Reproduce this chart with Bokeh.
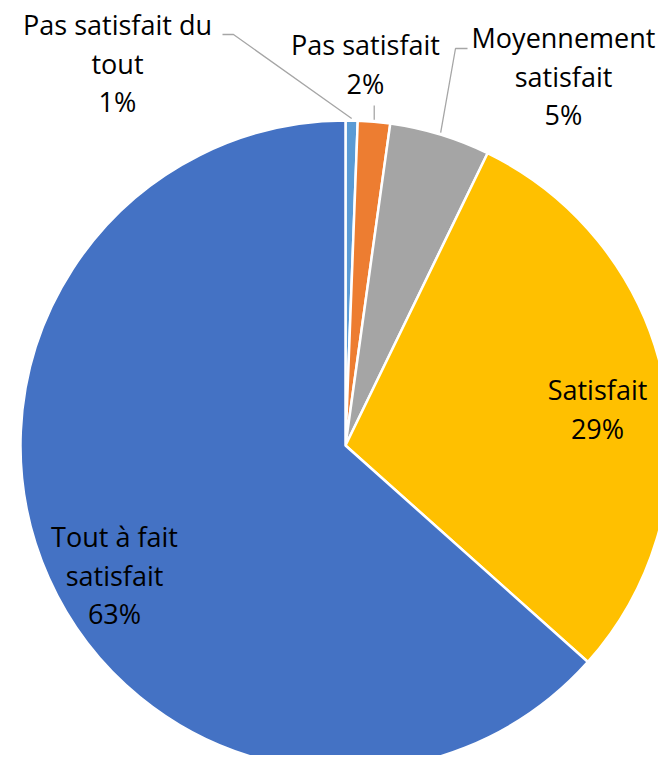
import math
from bokeh.plotting import figure
from bokeh.models import Range1d, ColumnDataSource
from bokeh.core.properties import value
from bokeh.embed import file_html
from bokeh.resources import INLINE

# ---- data ----
categories = ["Pas satisfait du tout", "Pas satisfait", "Moyennement satisfait",
              "Satisfait", "Tout à fait satisfait"]
shares = [0.6, 1.6, 5.0, 29.4, 63.4]
pct_labels = ["1%", "2%", "5%", "29%", "63%"]
label_lines = [["Pas satisfait du", "tout"], ["Pas satisfait"], ["Moyennement", "satisfait"],
               ["Satisfait"], ["Tout à fait", "satisfait"]]
colors = ["#5B9BD5", "#ED7D31", "#A5A5A5", "#FFC000", "#4472C4"]

# ---- layout (picture pixel coords) ----
W, H = 658, 755
def px(x):
    return x
def py(y):
    return H - y

CX, CY, R = 345, 445, 325
# label anchor: center x, first line baseline y (picture coords)
label_pos = [(117, 35), (365, 55), (563, 48), (597, 400), (114, 547)]
BASE_FIX = -11
LINE_H = 38.5
FONT = "Open Sans"
FSIZE = "27px"

p = figure(width=W, height=H, x_range=Range1d(0, W), y_range=Range1d(0, H),
           output_backend="svg", toolbar_location=None, min_border=0)
p.axis.visible = False
p.grid.visible = False
p.outline_line_color = None
p.background_fill_color = "white"

total = sum(shares)
starts, ends, mids = [], [], []
cum = 0.0
for s in shares:
    a0 = math.pi / 2 - cum / total * 2 * math.pi
    cum += s
    a1 = math.pi / 2 - cum / total * 2 * math.pi
    starts.append(a0)
    ends.append(a1)
    mids.append((a0 + a1) / 2)

src = ColumnDataSource(dict(cat=categories, start=starts, end=ends, color=colors))
p.wedge(x=px(CX), y=py(CY), radius=R, start_angle="start", end_angle="end",
        direction="clock", fill_color="color", line_color="white", line_width=2.5,
        source=src)

# leader lines for small slices
def edge_pt(i, extra=2):
    a = mids[i]
    return (CX + (R + extra) * math.cos(a), CY - (R + extra) * math.sin(a))

lead_col = "#A6A6A6"
x0, y0 = edge_pt(0)
p.line([px(x0), px(233), px(222)], [py(y0), py(34), py(34)], line_color=lead_col, line_width=1.3)
x1, y1 = edge_pt(1)
p.line([px(x1), px(x1)], [py(y1), py(105)], line_color=lead_col, line_width=1.3)
x2, y2 = edge_pt(2)
p.line([px(x2), px(455), px(467)], [py(y2), py(48), py(48)], line_color=lead_col, line_width=1.3)

# labels
tx, ty, tt = [], [], []
for i, lines in enumerate(label_lines):
    cx, by = label_pos[i]
    allk = lines + [pct_labels[i]]
    for k, t in enumerate(allk):
        tx.append(px(cx))
        ty.append(py(by + BASE_FIX + k * LINE_H))
        tt.append(t)
p.text(x=tx, y=ty, text=tt, text_align="center", text_baseline="alphabetic",
       text_font=value(FONT), text_font_size=FSIZE, text_color="#000000")

open("out.html", "w").write(file_html(p, INLINE))
